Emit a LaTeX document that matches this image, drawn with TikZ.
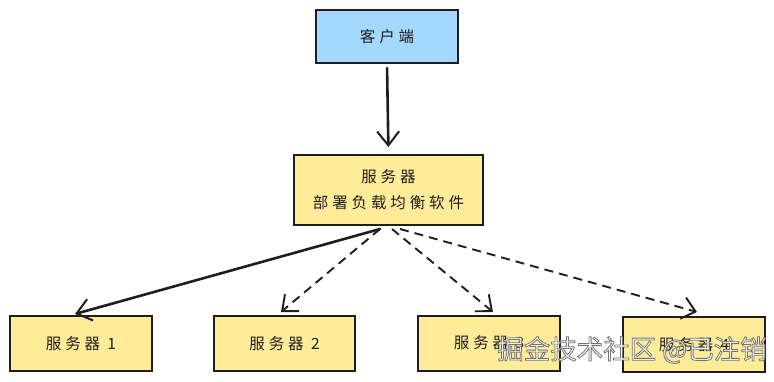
\documentclass[tikz,border=0pt]{standalone}
\usepackage{fontspec}
\newfontfamily\cjk[LetterSpace=25]{Noto Sans CJK SC}
\newfontfamily\wmfont{Noto Sans CJK SC}
\usetikzlibrary{arrows.meta}
\definecolor{cblue}{HTML}{A5D8FF}
\definecolor{cyellow}{HTML}{FFEC99}
\definecolor{ink}{HTML}{1E1E1E}
\tikzset{
  box/.style={draw=ink, line width=2pt, text=ink, font=\cjk\fontsize{15.5}{26}\selectfont, align=center, inner sep=0pt},
  bluebox/.style={box, fill=cblue},
  yelbox/.style={box, fill=cyellow},
  arr/.style={draw=ink, line width=2.6pt, line cap=round, -{Straight Barb[length=14pt,width=22pt,line width=2pt]}},
  darr/.style={draw=ink, line width=1.9pt, dash pattern=on 9pt off 6pt, -{Straight Barb[length=13pt,width=22pt,line width=1.9pt]}},
  wm/.style={font=\wmfont\fontsize{26.5}{26.5}\selectfont, text=white, inner sep=0pt}
}
\begin{document}
\begin{tikzpicture}[x=1pt,y=-1pt]
\useasboundingbox (0,0) rectangle (774,381);
\node[bluebox, minimum width=142pt, minimum height=53pt] (c) at (387,36.5) {客户端};
\node[yelbox, minimum width=189pt, minimum height=70pt] (m) at (388.5,190) {服务器\\部署负载均衡软件};
\node[yelbox, minimum width=142pt, minimum height=55pt] (s1) at (81,343.5) {服务器 1};
\node[yelbox, minimum width=141pt, minimum height=55pt] (s2) at (284.5,343.5) {服务器 2};
\node[yelbox, minimum width=142pt, minimum height=55pt] (s3) at (489,343) {服务器 3};
\node[yelbox, minimum width=142pt, minimum height=55pt] (s4) at (694,344.5) {服务器 4};
\draw[arr, shorten <=4pt, shorten >=7pt] (c.south) -- (m.north);
\draw[arr] ([xshift=-8.5pt,yshift=-3pt]m.south) -- ([xshift=-6pt,yshift=1pt]s1.north);
\draw[darr] ([xshift=-8.5pt,yshift=-3pt]m.south) -- ([xshift=-3.5pt,yshift=3pt]s2.north);
\draw[darr] ([xshift=3.5pt,yshift=-3pt]m.south) -- ([xshift=4pt,yshift=2.5pt]s3.north);
\draw[darr] ([xshift=11.5pt,yshift=-3pt]m.south) -- ([xshift=3pt,yshift=4pt]s4.north);
\node[wm] (w) at (632,350) {\special{pdf:literal direct 2 Tr 0.45 0.45 0.45 RG 0.8 w}掘金技术社区 @已注销\special{pdf:literal direct 0 Tr}};
\end{tikzpicture}
\end{document}
